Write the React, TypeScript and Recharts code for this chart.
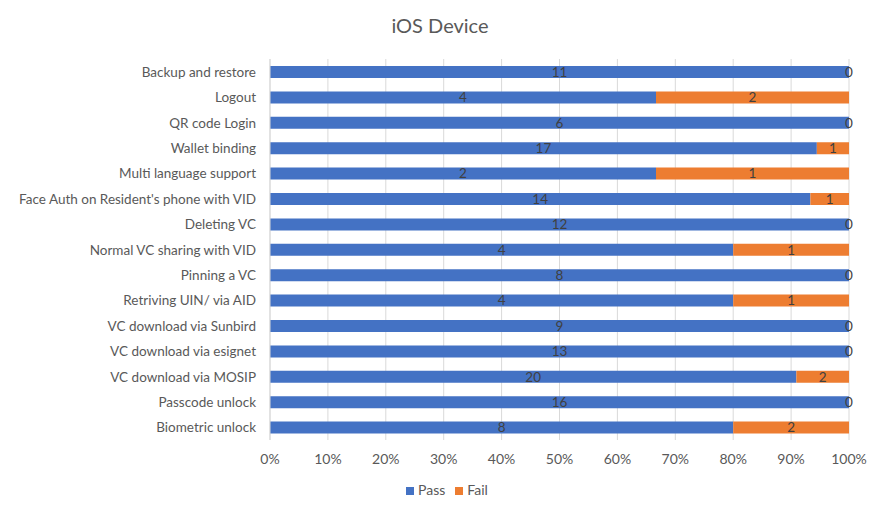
import { BarChart, Bar, XAxis, YAxis, CartesianGrid, Legend, LabelList } from 'recharts';

const categories = [
  'Backup and restore',
  'Logout',
  'QR code Login',
  'Wallet binding',
  'Multi language support',
  "Face Auth on Resident's phone with VID",
  'Deleting VC',
  'Normal VC sharing with VID',
  'Pinning a VC',
  'Retriving UIN/ via AID',
  'VC download via Sunbird',
  'VC download via esignet',
  'VC download via MOSIP',
  'Passcode unlock',
  'Biometric unlock',
];
const passCounts = [11, 4, 6, 17, 2, 14, 12, 4, 8, 4, 9, 13, 20, 16, 8];
const failCounts = [0, 2, 0, 1, 1, 1, 0, 1, 0, 1, 0, 0, 2, 0, 2];
const percentTicks = [0, 0.1, 0.2, 0.3, 0.4, 0.5, 0.6, 0.7, 0.8, 0.9, 1];
const seriesOrder = ['Pass', 'Fail'];

const FONT = 'Lato, "Open Sans", sans-serif';
const TEXT = '#595959';

// category labels drawn on one line (the default tick wraps long names)
const CategoryTick = (props: any) => {
  const { x, y, payload } = props;
  return (
    <text x={x} y={y} dy={5} textAnchor="end" fontSize={13.5} fill={TEXT} fontFamily={FONT}>
      {payload.value}
    </text>
  );
};

// fail segments of 0 have no width, so their "0" sits at the end of the pass bar
const ZeroFailLabel = (props: any) => {
  const { x, y, width, height, value } = props;
  if (value !== 0) return null;
  return (
    <text x={x + width} y={y + height / 2} dy={5} textAnchor="middle" fontSize={13.5} fill="#404040" fontFamily={FONT}>
      0
    </text>
  );
};

export default function App() {
  const data = categories.map((name, i) => ({ name, pass: passCounts[i], fail: failCounts[i] }));

  return (
    <div style={{ position: 'relative', width: 864, height: 495, fontFamily: FONT }}>
      <div
        style={{
          position: 'absolute',
          top: 5,
          left: 0,
          width: 864,
          textAlign: 'center',
          fontSize: 20,
          color: TEXT,
        }}
      >
        iOS Device
      </div>
      <BarChart
        width={864}
        height={495}
        data={data}
        layout="vertical"
        stackOffset="expand"
        barCategoryGap={0}
        margin={{ top: 51, right: 23, bottom: 12, left: 0 }}
      >
        <CartesianGrid horizontal={false} stroke="#d9d9d9" />
        <XAxis
          type="number"
          domain={[0, 1]}
          ticks={percentTicks}
          tickFormatter={(v: number) => `${Math.round(v * 100)}%`}
          axisLine={false}
          tickLine={false}
          tickMargin={8}
          height={34}
          tick={{ fontSize: 14, fill: TEXT, fontFamily: FONT }}
        />
        <YAxis
          type="category"
          dataKey="name"
          width={262}
          axisLine={{ stroke: '#d9d9d9' }}
          tickLine={false}
          tickMargin={8}
          interval={0}
          tick={<CategoryTick />}
        />
        <Legend
          verticalAlign="bottom"
          iconType="square"
          iconSize={8}
          itemSorter={(item: any) => seriesOrder.indexOf(item.value)}
          wrapperStyle={{ bottom: 5, left: 12, width: 864, fontSize: 14, fontFamily: FONT }}
          formatter={(value: string) => <span style={{ color: TEXT }}>{value}</span>}
        />
        <Bar dataKey="pass" name="Pass" stackId="a" fill="#4472C4" barSize={12} isAnimationActive={false}>
          <LabelList dataKey="pass" position="center" fill="#404040" fontSize={13.5} fontFamily={FONT} />
          <LabelList dataKey="fail" content={<ZeroFailLabel />} />
        </Bar>
        <Bar dataKey="fail" name="Fail" stackId="a" fill="#ED7D31" barSize={12} isAnimationActive={false}>
          <LabelList
            dataKey="fail"
            position="center"
            fill="#404040"
            fontSize={13.5}
            fontFamily={FONT}
            formatter={(v: any) => (v === 0 ? '' : v)}
          />
        </Bar>
      </BarChart>
    </div>
  );
}
